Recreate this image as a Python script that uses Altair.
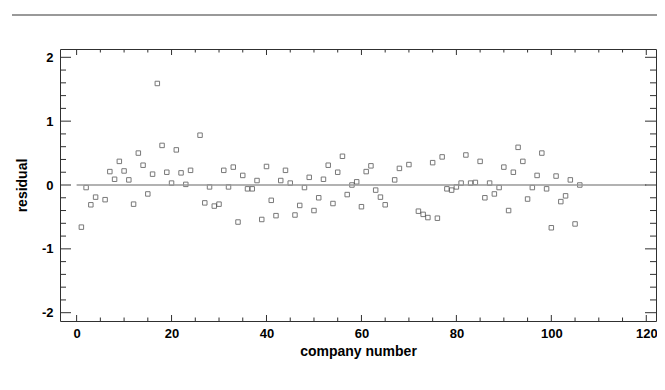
import altair as alt
import pandas as pd

company = [1, 2, 3, 4, 6, 7, 8, 9, 10, 11, 12, 13, 14, 15, 16, 17, 18, 19, 20, 21, 22, 23, 24,
           26, 27, 28, 29, 30, 31, 32, 33, 34, 35, 36, 37, 38, 39, 40, 41, 42, 43, 44, 45, 46,
           47, 48, 49, 50, 51, 52, 53, 54, 55, 56, 57, 58, 59, 60, 61, 62, 63, 64, 65,
           67, 68, 70, 72, 73, 74, 75, 76, 77, 78, 79, 80, 81, 82, 83, 84, 85, 86, 87, 88,
           89, 90, 91, 92, 93, 94, 95, 96, 97, 98, 99, 100, 101, 102, 103, 104, 105, 106]
residual = [-0.66, -0.04, -0.31, -0.19, -0.23, 0.21, 0.09, 0.37, 0.22, 0.08, -0.30, 0.50, 0.31,
            -0.14, 0.17, 1.59, 0.62, 0.20, 0.03, 0.55, 0.19, 0.01, 0.23,
            0.78, -0.28, -0.03, -0.33, -0.30, 0.23, -0.03, 0.28, -0.58, 0.15, -0.06, -0.06, 0.07,
            -0.54, 0.29, -0.24, -0.48, 0.07, 0.23, 0.03, -0.47, -0.32, -0.04, 0.12, -0.40, -0.20,
            0.09, 0.31, -0.29, 0.20, 0.45, -0.15, 0.00, 0.05, -0.34, 0.21, 0.30, -0.08, -0.19, -0.31,
            0.08, 0.26, 0.32, -0.41, -0.46, -0.51, 0.35, -0.52, 0.44, -0.06, -0.08, -0.03, 0.03,
            0.47, 0.03, 0.04, 0.37, -0.20, 0.03, -0.14, -0.04, 0.28, -0.40, 0.20, 0.59, 0.37, -0.22,
            -0.04, 0.15, 0.50, -0.06, -0.67, 0.14, -0.26, -0.17, 0.08, -0.61, 0.00]
assert len(company) == len(residual)

x_major = [0, 20, 40, 60, 80, 100, 120]
x_minor = [5, 10, 15, 25, 30, 35, 45, 50, 55, 65, 70, 75, 85, 90, 95, 105, 110, 115]
y_major = [-2, -1, 0, 1, 2]
y_minor = [-1.8, -1.6, -1.4, -1.2, -0.8, -0.6, -0.4, -0.2, 0.2, 0.4, 0.6, 0.8,
           1.2, 1.4, 1.6, 1.8]
zero_line = {"x": 0, "x2": 120, "y": 0}

W, H = 596, 272
FONT = "Liberation Sans"
INK = "#303030"

xscale = alt.Scale(domain=[-3.5, 122.05], nice=False, zero=False)
yscale = alt.Scale(domain=[-2.13, 2.13], nice=False, zero=False)

xaxis = alt.Axis(values=x_major, title="company number", grid=False, ticks=False, domain=False,
                 labelFont=FONT, labelFontSize=13, labelFontWeight="bold", labelColor="black",
                 labelPadding=6, titleFont=FONT, titleFontSize=14, titleFontWeight="bold",
                 titleColor="black", titlePadding=4, labelExpr="'' + datum.value")
yaxis = alt.Axis(values=y_major, title="residual", grid=False, ticks=False, domain=False,
                 labelFont=FONT, labelFontSize=13, labelFontWeight="bold", labelColor="black",
                 labelPadding=7, titleFont=FONT, titleFontSize=14, titleFontWeight="bold",
                 titleColor="black", titlePadding=12, labelExpr="'' + datum.value")

df = pd.DataFrame({"company": company, "residual": residual})

points = alt.Chart(df).mark_square(filled=False, size=20, stroke="#404040", strokeWidth=1).encode(
    x=alt.X("company:Q", scale=xscale, axis=xaxis),
    y=alt.Y("residual:Q", scale=yscale, axis=yaxis),
)

zl = alt.Chart(alt.Data(values=[zero_line])).mark_rule(color="#999999", strokeWidth=1.6).encode(
    x=alt.X("x:Q", scale=xscale, axis=xaxis), x2="x2:Q",
    y=alt.Y("y:Q", scale=yscale, axis=yaxis),
)

def xticks(vals, length, top):
    d = pd.DataFrame({"v": vals})
    base = alt.Chart(d).mark_rule(color=INK, strokeWidth=1)
    if top:
        enc = dict(y=alt.value(0), y2=alt.value(length))
    else:
        enc = dict(y=alt.value(H), y2=alt.value(H - length))
    return base.encode(x=alt.X("v:Q", scale=xscale, axis=xaxis), **enc)

def yticks(vals, length, right):
    d = pd.DataFrame({"v": vals})
    base = alt.Chart(d).mark_rule(color=INK, strokeWidth=1)
    if right:
        enc = dict(x=alt.value(W), x2=alt.value(W - length))
    else:
        enc = dict(x=alt.value(0), x2=alt.value(length))
    return base.encode(y=alt.Y("v:Q", scale=yscale, axis=yaxis), **enc)

ticks = [
    xticks(x_major, 6, False), xticks(x_minor, 3.5, False),
    xticks(x_major, 6, True), xticks(x_minor, 3.5, True),
    yticks(y_major, 11, False), yticks(y_minor, 6, False),
    yticks(y_major, 11, True), yticks(y_minor, 6, True),
]

topline = alt.Chart(alt.Data(values=[{}])).mark_rule(color="#999999", strokeWidth=2).encode(
    x=alt.value(-48), x2=alt.value(W + 1), y=alt.value(-34)
)

chart = alt.layer(points, zl, *ticks, topline).properties(
    width=W, height=H,
    background="white",
    autosize=alt.AutoSizeParams(type="none"),
    padding={"left": 52, "top": 41, "right": 1, "bottom": 42},
).configure_view(stroke=INK, strokeWidth=1)

chart.save("out.html", embed_options={"renderer": "svg", "actions": False})
